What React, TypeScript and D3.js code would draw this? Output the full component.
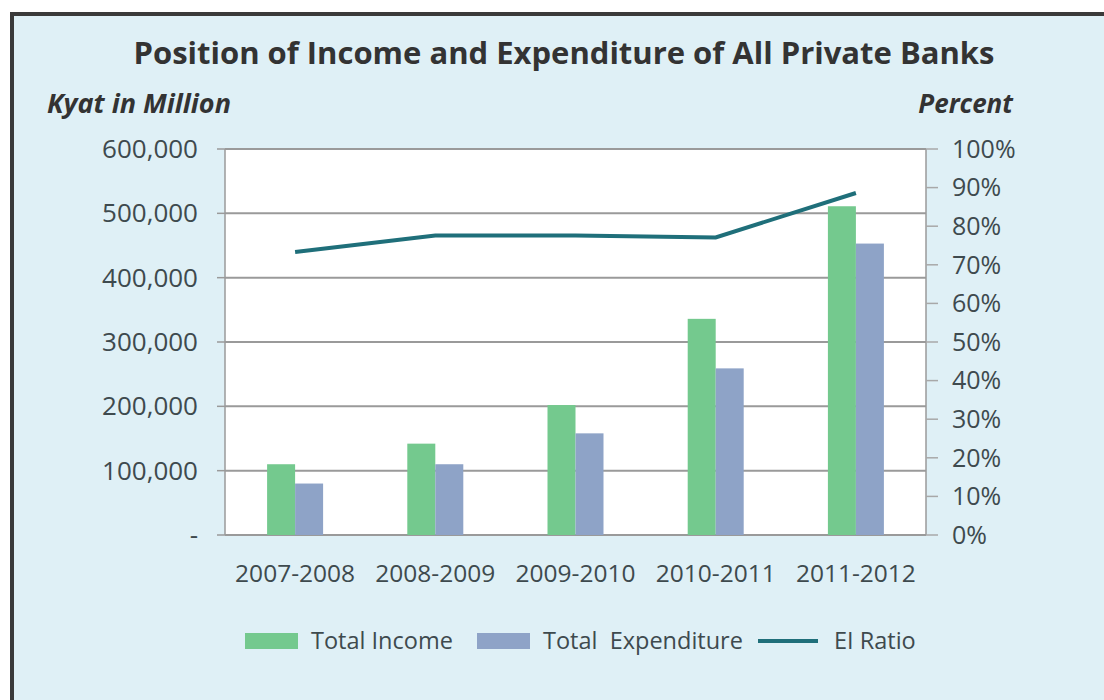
import React from "react";
import * as d3 from "d3";

const categories = ["2007-2008", "2008-2009", "2009-2010", "2010-2011", "2011-2012"];
const totalIncome = [110000, 142000, 202000, 336000, 511000];
const totalExpenditure = [80000, 110000, 158000, 259000, 453000];
const eiRatio = [73.3, 77.6, 77.6, 77.1, 88.6];
const leftTicks = [0, 100000, 200000, 300000, 400000, 500000, 600000];
const rightTicks = [0, 10, 20, 30, 40, 50, 60, 70, 80, 90, 100];
const seriesNames = ["Total Income", "Total  Expenditure", "EI Ratio"];

const W = 1104;
const H = 700;
const M = { left: 225, right: 926, top: 149, bottom: 535 };
const FONT = "'Open Sans', 'DejaVu Sans', sans-serif";
const GREEN = "#74C98E";
const BLUE = "#8EA3C7";
const LINE = "#1F6F7A";
const TEXT = "#3E4A4E";

export default function App() {
  const x = d3.scaleBand<string>().domain(categories).range([M.left, M.right]);
  const yL = d3.scaleLinear().domain([0, 600000]).range([M.bottom, M.top]);
  const yR = d3.scaleLinear().domain([0, 100]).range([M.bottom, M.top]);
  const barW = 28;
  const fmt = (v: number) => (v === 0 ? "-" : d3.format(",")(v));
  const line = d3
    .line<number>()
    .x((_, i) => (x(categories[i]) as number) + x.bandwidth() / 2)
    .y((d) => yR(d));

  return (
    <svg width={W} height={H} style={{ position: "absolute", left: 0, top: 0 }}>
      <rect x={0} y={0} width={W} height={H} fill="#ffffff" />
      <rect x={12} y={14} width={W + 20} height={H + 20} fill="#DFF0F6" stroke="#3A3A3A" strokeWidth={4} />
      <text x={564} y={64} textAnchor="middle" fontFamily={FONT} fontWeight="bold" fontSize={31} fill="#333">
        Position of Income and Expenditure of All Private Banks
      </text>
      <text x={47} y={113} fontFamily={FONT} fontWeight="bold" fontStyle="italic" fontSize={27} fill="#333">
        Kyat in Million
      </text>
      <text x={1013} y={113} textAnchor="end" fontFamily={FONT} fontWeight="bold" fontStyle="italic" fontSize={26} fill="#333">
        Percent
      </text>
      <rect x={M.left} y={M.top} width={M.right - M.left} height={M.bottom - M.top} fill="#ffffff" />
      {leftTicks.map((t) => (
        <g key={"l" + t}>
          <line x1={M.left} x2={M.right} y1={yL(t)} y2={yL(t)} stroke="#9A9A9A" strokeWidth={2} />
          <line x1={217} x2={M.left} y1={yL(t)} y2={yL(t)} stroke="#9A9A9A" strokeWidth={1.5} />
          <text x={198} y={yL(t)} dy="0.35em" textAnchor="end" fontFamily={FONT} fontSize={26} fill={TEXT}>
            {fmt(t)}
          </text>
        </g>
      ))}
      <line x1={M.left} x2={M.left} y1={M.top} y2={M.bottom} stroke="#9A9A9A" strokeWidth={1.5} />
      <line x1={M.right} x2={M.right} y1={M.top} y2={M.bottom} stroke="#9A9A9A" strokeWidth={1.5} />
      {rightTicks.map((t) => (
        <g key={"r" + t}>
          <line x1={M.right} x2={M.right + 12} y1={yR(t)} y2={yR(t)} stroke="#A8A8A8" strokeWidth={1.5} />
          <text x={952} y={yR(t)} dy="0.35em" fontFamily={FONT} fontSize={25} fill={TEXT}>
            {t + "%"}
          </text>
        </g>
      ))}
      {categories.map((c, i) => {
        const cx = (x(c) as number) + x.bandwidth() / 2;
        return (
          <g key={c}>
            <rect x={cx - barW} y={yL(totalIncome[i])} width={barW} height={M.bottom - yL(totalIncome[i])} fill={GREEN} />
            <rect x={cx} y={yL(totalExpenditure[i])} width={barW} height={M.bottom - yL(totalExpenditure[i])} fill={BLUE} />
            <text x={cx} y={582} textAnchor="middle" fontFamily={FONT} fontSize={24.5} fill={TEXT}>
              {c}
            </text>
          </g>
        );
      })}
      <path d={line(eiRatio) || ""} fill="none" stroke={LINE} strokeWidth={4} />
      <g fontFamily={FONT} fontSize={23.5} fill={TEXT}>
        <rect x={245} y={633} width={53} height={16} fill={GREEN} />
        <text x={311} y={641} dy="0.35em">{seriesNames[0]}</text>
        <rect x={477} y={633} width={53} height={16} fill={BLUE} />
        <text x={543} y={641} dy="0.35em" style={{ whiteSpace: "pre" }}>{seriesNames[1]}</text>
        <line x1={758} x2={818} y1={641} y2={641} stroke={LINE} strokeWidth={4} />
        <text x={834} y={641} dy="0.35em">{seriesNames[2]}</text>
      </g>
    </svg>
  );
}
